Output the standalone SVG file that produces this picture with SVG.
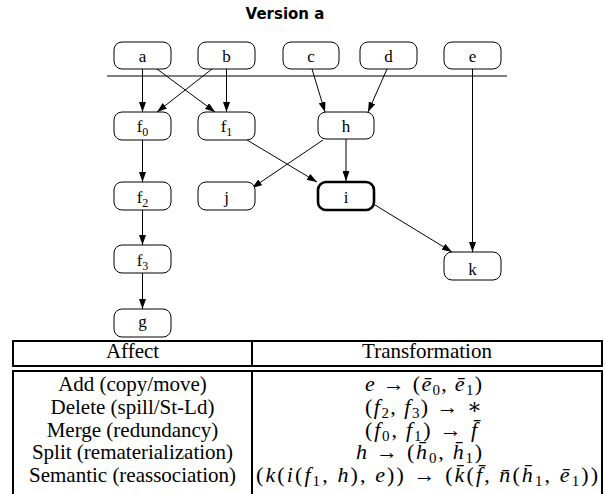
<svg xmlns="http://www.w3.org/2000/svg" width="605" height="494" viewBox="0 0 605 494">
  <defs>
    <style>
      .title { font-family: "DejaVu Sans", "Liberation Sans", sans-serif; font-weight: bold; font-size: 15px; text-anchor: middle; fill: #000; }
      .node rect { fill: #fff; stroke: #000; stroke-width: 1; }
      .node.bold rect { stroke-width: 2.6; }
      .node text { font-family: "Liberation Serif", "Times New Roman", serif; font-size: 17px; text-anchor: middle; fill: #000; }
      .node .sub { font-size: 12px; }
      .edge { stroke: #000; stroke-width: 1; fill: none; marker-end: url(#arrow); }
      .plain { stroke: #000; stroke-width: 1; fill: none; }
      .tbl { fill: none; stroke: #000; stroke-width: 2; }
      .cell { font-family: "Liberation Serif", "Times New Roman", serif; font-size: 21px; text-anchor: middle; fill: #000; }
      .math { font-family: "Liberation Serif", "DejaVu Serif", serif; font-size: 22px; fill: #000; }
      .math .v { font-style: italic; }
      .math .s { font-size: 15px; }
    </style>
    <marker id="arrow" markerUnits="userSpaceOnUse" markerWidth="10" markerHeight="7" refX="10" refY="3.5" orient="auto" viewBox="0 0 10 7">
      <path d="M0,0 L10,3.5 L0,7 z" fill="#000"/>
    </marker>
  </defs>

  <text class="title" x="285" y="19">Version a</text>

  <!-- boundary between the input values and the computed ones -->
  <line class="plain" x1="107" y1="76" x2="507" y2="76"/>

  <g id="edges">
    <line class="edge" x1="142.5" y1="69" x2="142.5" y2="112"/>
    <line class="edge" x1="157" y1="69" x2="215" y2="112"/>
    <line class="edge" x1="212" y1="69" x2="157" y2="112"/>
    <line class="edge" x1="226.5" y1="69" x2="226.5" y2="112"/>
    <line class="edge" x1="312" y1="69" x2="325" y2="112"/>
    <line class="edge" x1="387" y1="69" x2="368" y2="112"/>
    <line class="edge" x1="472.5" y1="69" x2="472.5" y2="252"/>
    <line class="edge" x1="142.5" y1="140" x2="142.5" y2="182"/>
    <line class="edge" x1="247" y1="140" x2="317" y2="182"/>
    <line class="edge" x1="323" y1="140" x2="252" y2="188"/>
    <line class="edge" x1="346" y1="139" x2="346" y2="181"/>
    <line class="edge" x1="375" y1="205" x2="452" y2="252"/>
    <line class="edge" x1="142.5" y1="210" x2="142.5" y2="245"/>
    <line class="edge" x1="142.5" y1="273" x2="142.5" y2="309"/>
  </g>

  <g id="node-a" class="node"><rect x="114" y="42" width="57" height="27" rx="8"/><text x="142.5" y="62">a</text></g>
  <g id="node-b" class="node"><rect x="198" y="42" width="57" height="27" rx="8"/><text x="226.5" y="62">b</text></g>
  <g id="node-c" class="node"><rect x="283" y="42" width="56" height="27" rx="8"/><text x="311" y="62">c</text></g>
  <g id="node-d" class="node"><rect x="360" y="42" width="57" height="27" rx="8"/><text x="388.5" y="62">d</text></g>
  <g id="node-e" class="node"><rect x="444" y="42" width="57" height="27" rx="8"/><text x="472.5" y="62">e</text></g>

  <g id="node-f0" class="node"><rect x="114" y="112" width="57" height="28" rx="8"/><text x="142.5" y="132">f<tspan class="sub" dy="4">0</tspan></text></g>
  <g id="node-f1" class="node"><rect x="198" y="112" width="57" height="28" rx="8"/><text x="226.5" y="132">f<tspan class="sub" dy="4">1</tspan></text></g>
  <g id="node-h" class="node"><rect x="318" y="112" width="56" height="27" rx="8"/><text x="346" y="132">h</text></g>

  <g id="node-f2" class="node"><rect x="114" y="182" width="57" height="28" rx="8"/><text x="142.5" y="203">f<tspan class="sub" dy="4">2</tspan></text></g>
  <g id="node-j" class="node"><rect x="198" y="182" width="57" height="28" rx="8"/><text x="226.5" y="203">j</text></g>
  <g id="node-i" class="node bold"><rect x="318" y="182" width="56" height="28" rx="8"/><text x="346" y="203">i</text></g>

  <g id="node-f3" class="node"><rect x="114" y="245" width="57" height="28" rx="8"/><text x="142.5" y="266">f<tspan class="sub" dy="4">3</tspan></text></g>
  <g id="node-k" class="node"><rect x="444" y="252" width="57" height="28" rx="8"/><text x="472.5" y="275">k</text></g>
  <g id="node-g" class="node"><rect x="114" y="309" width="57" height="28" rx="8"/><text x="142.5" y="327">g</text></g>

  <!-- table of transformations -->
  <g id="table">
    <rect class="tbl" x="13" y="341" width="589" height="25"/>
    <line class="tbl" x1="252" y1="341" x2="252" y2="366"/>
    <rect class="tbl" x="13" y="371" width="589" height="130"/>
    <line class="tbl" x1="252" y1="371" x2="252" y2="501"/>

    <text class="cell" x="132.5" y="358">Affect</text>
    <text class="cell" x="427" y="358">Transformation</text>

    <text class="cell" x="132.5" y="391">Add (copy/move)</text>
    <text class="cell" x="132.5" y="414">Delete (spill/St-Ld)</text>
    <text class="cell" x="132.5" y="437">Merge (redundancy)</text>
    <text class="cell" x="132.5" y="459">Split (rematerialization)</text>
    <text class="cell" x="132.5" y="482">Semantic (reassociation)</text>

    <text class="math" x="365" y="391" textLength="117" lengthAdjust="spacing"><tspan class="v">e</tspan> → (<tspan class="v">ē</tspan><tspan class="s" dy="4">0</tspan><tspan dy="-4">, </tspan><tspan class="v">ē</tspan><tspan class="s" dy="4">1</tspan><tspan dy="-4">)</tspan></text>
    <text class="math" x="365" y="414" textLength="117" lengthAdjust="spacing">(<tspan class="v">f</tspan><tspan class="s" dy="4">2</tspan><tspan dy="-4">, </tspan><tspan class="v">f</tspan><tspan class="s" dy="4">3</tspan><tspan dy="-4">) → ∗</tspan></text>
    <text class="math" x="365" y="437" textLength="112" lengthAdjust="spacing">(<tspan class="v">f</tspan><tspan class="s" dy="4">0</tspan><tspan dy="-4">, </tspan><tspan class="v">f</tspan><tspan class="s" dy="4">1</tspan><tspan dy="-4">) → </tspan><tspan class="v">f̄</tspan></text>
    <text class="math" x="356" y="459" textLength="126" lengthAdjust="spacing"><tspan class="v">h</tspan> → (<tspan class="v">h̄</tspan><tspan class="s" dy="4">0</tspan><tspan dy="-4">, </tspan><tspan class="v">h̄</tspan><tspan class="s" dy="4">1</tspan><tspan dy="-4">)</tspan></text>
    <text class="math" x="256" y="482" textLength="342" lengthAdjust="spacing">(<tspan class="v">k</tspan>(<tspan class="v">i</tspan>(<tspan class="v">f</tspan><tspan class="s" dy="4">1</tspan><tspan dy="-4">, </tspan><tspan class="v">h</tspan>), <tspan class="v">e</tspan>)) → (<tspan class="v">k̄</tspan>(<tspan class="v">f̄</tspan>, <tspan class="v">n̄</tspan>(<tspan class="v">h̄</tspan><tspan class="s" dy="4">1</tspan><tspan dy="-4">, </tspan><tspan class="v">ē</tspan><tspan class="s" dy="4">1</tspan><tspan dy="-4">))</tspan></text>
  </g>
</svg>
